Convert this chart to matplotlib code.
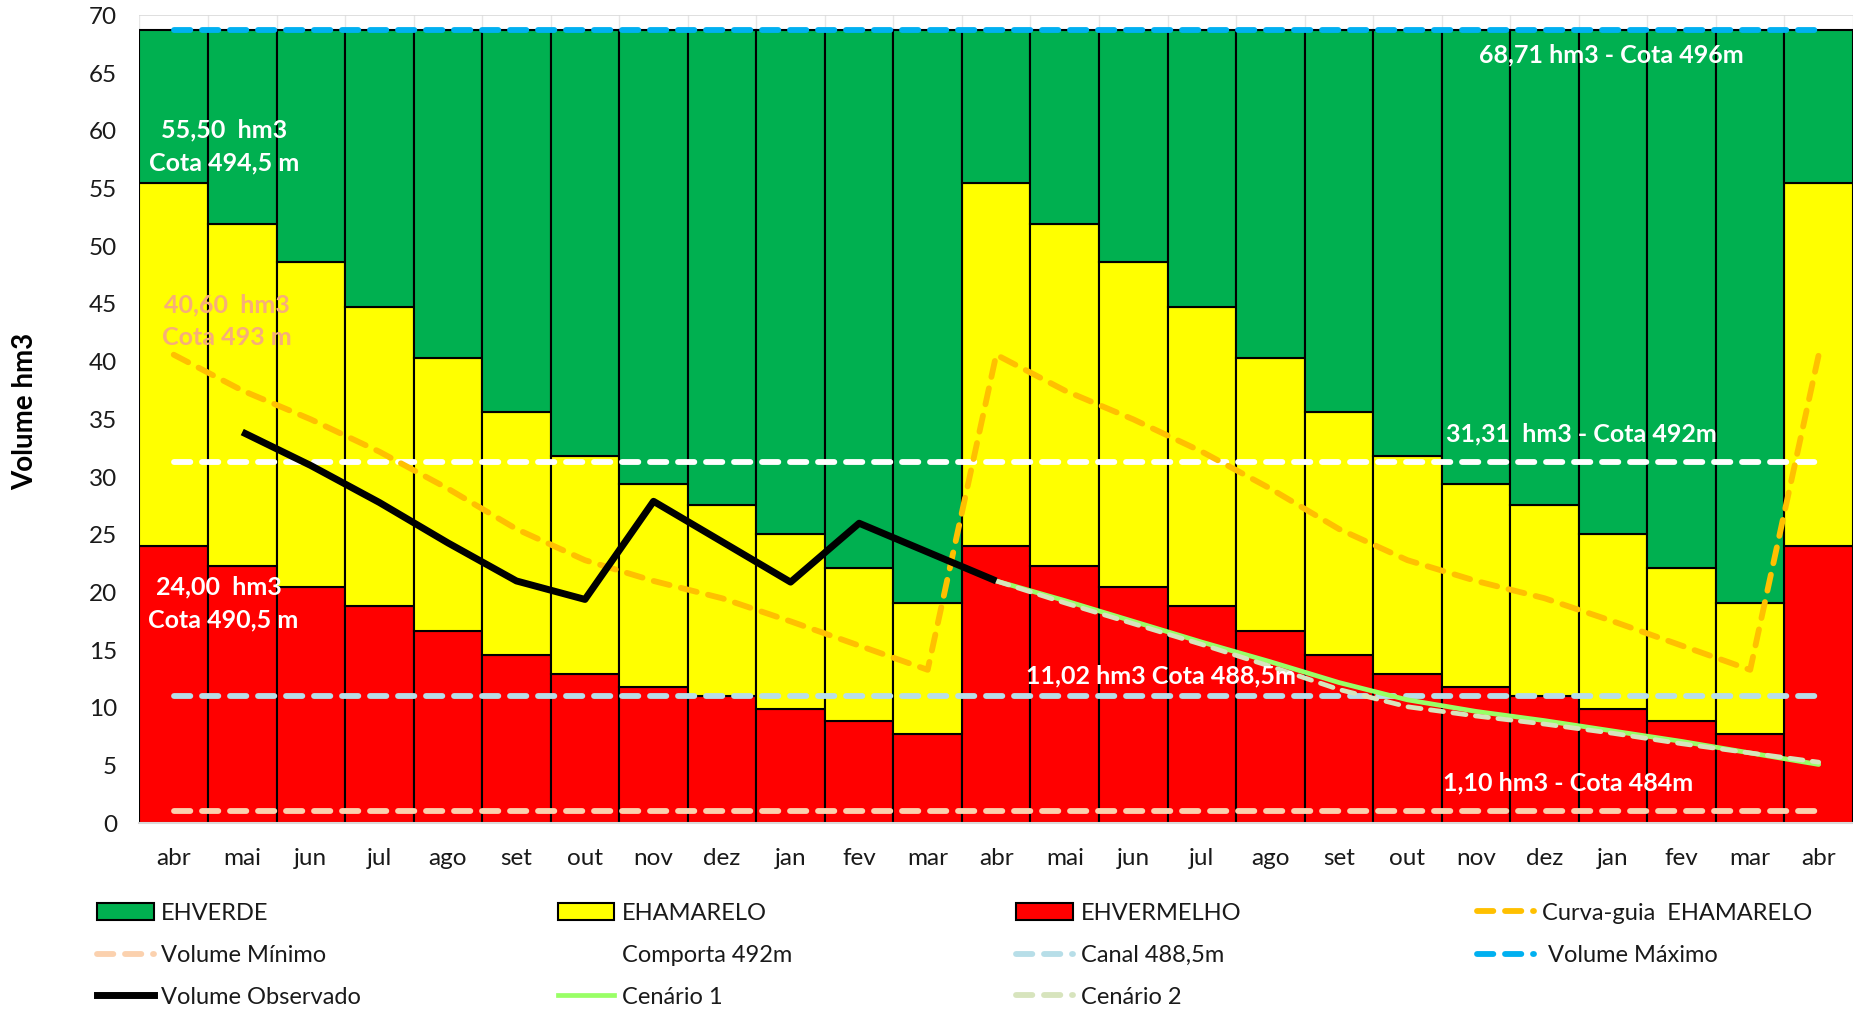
import numpy as np
import matplotlib
matplotlib.use("Agg")
import matplotlib.pyplot as plt
from matplotlib.patches import Patch
from matplotlib.lines import Line2D

plt.rcParams['font.family'] = ['Lato', 'DejaVu Sans']

# ---------------- data ----------------
months = ['abr', 'mai', 'jun', 'jul', 'ago', 'set', 'out', 'nov', 'dez', 'jan', 'fev', 'mar',
          'abr', 'mai', 'jun', 'jul', 'ago', 'set', 'out', 'nov', 'dez', 'jan', 'fev', 'mar', 'abr']

# top of red zone (EHVERMELHO)
red_top = [24.0, 22.3, 20.5, 18.8, 16.7, 14.55, 12.95, 11.8, 11.0, 9.9, 8.85, 7.7,
           24.0, 22.3, 20.5, 18.8, 16.7, 14.55, 12.95, 11.8, 11.0, 9.9, 8.85, 7.7, 24.0]
# top of yellow zone (EHAMARELO)
yellow_top = [55.5, 51.9, 48.6, 44.7, 40.3, 35.6, 31.8, 29.4, 27.6, 25.1, 22.1, 19.1,
              55.5, 51.9, 48.6, 44.7, 40.3, 35.6, 31.8, 29.4, 27.6, 25.1, 22.1, 19.1, 55.5]
# top of green zone (EHVERDE) = volume maximo
green_top = [68.71] * 25

curva_guia = [40.6, 37.5, 35.0, 32.2, 29.0, 25.5, 22.8, 21.0, 19.5, 17.5, 15.4, 13.3,
              40.6, 37.5, 35.0, 32.2, 29.0, 25.5, 22.8, 21.0, 19.5, 17.5, 15.4, 13.3, 40.6]

vol_minimo = [1.10] * 25
comporta = [31.31] * 25
canal = [11.02] * 25
vol_maximo = [68.71] * 25

nan = np.nan
vol_observado = [nan, 33.9, 31.0, 27.8, 24.3, 21.0, 19.4, 27.9, 24.4, 20.9, 26.0, 23.5, 21.0,
                 nan, nan, nan, nan, nan, nan, nan, nan, nan, nan, nan, nan]
cenario1 = [nan, nan, nan, nan, nan, nan, nan, nan, nan, nan, nan, nan,
            21.0, 19.3, 17.5, 15.7, 14.0, 12.2, 10.7, 9.7, 8.9, 8.0, 7.1, 6.1, 5.1]
cenario2 = [nan, nan, nan, nan, nan, nan, nan, nan, nan, nan, nan, nan,
            21.0, 19.1, 17.3, 15.5, 13.6, 11.6, 10.1, 9.3, 8.6, 7.8, 6.9, 6.1, 5.3]

# ---------------- figure ----------------
W, H = 1853, 1010
fig = plt.figure(figsize=(W / 100, H / 100), dpi=100)
ax = fig.add_axes([118 / 1568, 1 - 697 / 855, 1 - 118 / 1568, (697 - 13) / 855])

x = np.arange(len(months))
red_top_a = np.array(red_top)
yellow_top_a = np.array(yellow_top)
green_top_a = np.array(green_top)

GREEN = '#00B050'
YELLOW = '#FFFF00'
RED = '#FF0000'

ax.bar(x, red_top_a, width=1.0, color=RED, edgecolor='black', linewidth=1.5, zorder=2)
ax.bar(x, yellow_top_a - red_top_a, bottom=red_top_a, width=1.0, color=YELLOW,
       edgecolor='black', linewidth=1.5, zorder=2)
ax.bar(x, green_top_a - yellow_top_a, bottom=yellow_top_a, width=1.0, color=GREEN,
       edgecolor='black', linewidth=1.5, zorder=2)

dash = dict(dashes=(2.8, 2.0), dash_capstyle='round', solid_capstyle='round')
LW = 4.2
ax.plot(x, vol_minimo, color='#FBD1AE', lw=LW, zorder=3, **dash)
ax.plot(x, comporta, color='white', lw=LW, zorder=3, **dash)
ax.plot(x, canal, color='#B7DEE8', lw=LW, zorder=3, **dash)
ax.plot(x, vol_maximo, color='#00B0F0', lw=LW, zorder=3, **dash)
ax.plot(x, curva_guia, color='#FFC000', lw=LW, zorder=4, **dash)
ax.plot(x, cenario1, color='#99FF66', lw=3.4, zorder=5, solid_capstyle='round')
ax.plot(x, cenario2, color='#D7E4BD', lw=3.4, zorder=5, **dash)
ax.plot(x, vol_observado, color='black', lw=5.0, zorder=6, solid_capstyle='butt')

ax.set_xlim(-0.5, len(months) - 0.5)
ax.set_ylim(0, 70)
ax.set_yticks(np.arange(0, 71, 5))
ax.set_xticks(x)
ax.set_xticklabels(months)
ax.set_xticks(np.arange(-0.5, len(months), 0.5), minor=True)
ax.tick_params(axis='both', which='both', length=0, labelsize=17.5, colors='#1a1a1a')
ax.tick_params(axis='x', pad=18)
ax.tick_params(axis='y', pad=16)
ax.set_axisbelow(True)
ax.grid(axis='y', color='#D9D9D9', lw=1.2, zorder=0)
ax.grid(axis='x', which='minor', color='#E6E6E6', lw=1.0, zorder=0)
for s in ['top', 'right', 'left']:
    ax.spines[s].set_visible(False)
ax.spines['bottom'].set_color('#D9D9D9')
ax.spines['bottom'].set_linewidth(1.5)

ax.set_ylabel('Volume hm3', fontsize=20, fontweight='bold', va='center')
ax.yaxis.set_label_coords(-(118 - 21) / (1568 - 118), 0.51)

# ---------------- annotations ----------------
tk = dict(fontsize=18, fontweight='bold', ha='center', va='center', zorder=8)
ax.text(0.74, 60.1, '55,50  hm3', color='white', **tk)
ax.text(0.74, 57.2, 'Cota 494,5 m', color='white', **tk)
ax.text(0.78, 44.9, '40,60  hm3', color='#F7AE79', **tk)
ax.text(0.78, 42.1, 'Cota 493 m', color='#F7AE79', **tk)
ax.text(0.66, 20.5, '24,00  hm3', color='white', **tk)
ax.text(0.72, 17.6, 'Cota 490,5 m', color='white', **tk)
ax.text(20.97, 66.6, '68,71 hm3 - Cota 496m', color='white', **tk)
ax.text(20.53, 33.7, '31,31  hm3 - Cota 492m', color='white', **tk)
ax.text(14.41, 12.8, '11,02 hm3 Cota 488,5m', color='white', **tk)
ax.text(20.34, 3.5, '1,10 hm3 - Cota 484m', color='white', **tk)

# ---------------- legend ----------------
def ldash(c):
    return Line2D([], [], color=c, lw=LW, **dash)

entries = [
    (Patch(facecolor=GREEN, edgecolor='black', lw=1.5), 'EHVERDE', 0, 0),
    (Patch(facecolor=YELLOW, edgecolor='black', lw=1.5), 'EHAMARELO', 1, 0),
    (Patch(facecolor=RED, edgecolor='black', lw=1.5), 'EHVERMELHO', 2, 0),
    (ldash('#FFC000'), 'Curva-guia  EHAMARELO', 3, 0),
    (ldash('#FBD1AE'), 'Volume Mínimo', 0, 1),
    (ldash('white'), 'Comporta 492m', 1, 1),
    (ldash('#B7DEE8'), 'Canal 488,5m', 2, 1),
    (ldash('#00B0F0'), ' Volume Máximo', 3, 1),
    (Line2D([], [], color='black', lw=5.0), 'Volume Observado', 0, 2),
    (Line2D([], [], color='#99FF66', lw=3.4), 'Cenário 1', 1, 2),
    (ldash('#D7E4BD'), 'Cenário 2', 2, 2),
]
col_x = [82 / 1568, 472 / 1568, 860 / 1568, 1250 / 1568]
row_y = [1 - 773 / 855, 1 - 809 / 855, 1 - 844 / 855]
for h, lab, c, r in entries:
    fig.legend(handles=[h], labels=[lab], loc='center left',
               bbox_to_anchor=(col_x[c], row_y[r]), bbox_transform=fig.transFigure,
               frameon=False, borderpad=0, borderaxespad=0, fontsize=17,
               handlelength=2.4, handletextpad=0.33, labelcolor='#1a1a1a')

fig.savefig('out.png', dpi=100)
